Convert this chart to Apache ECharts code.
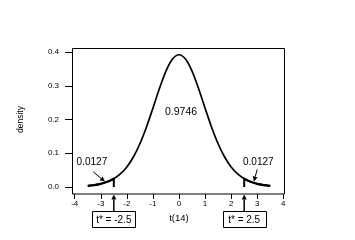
<!DOCTYPE html>
<html>
<head>
<meta charset="utf-8">
<script src="https://cdn.jsdelivr.net/npm/echarts@6/dist/echarts.min.js"></script>
<style>
html,body{margin:0;padding:0;background:#fff;}
#c{width:355px;height:240px;}
</style>
</head>
<body>
<div id="c"></div>
<script>
// Data
const tValues = [-3.5,-3.25,-3,-2.75,-2.5,-2.25,-2,-1.75,-1.5,-1.25,-1,-0.75,-0.5,-0.25,0,0.25,0.5,0.75,1,1.25,1.5,1.75,2,2.25,2.5,2.75,3,3.25,3.5];
const density = [0.0035,0.0058,0.0095,0.0154,0.0246,0.0387,0.0595,0.0889,0.1282,0.1772,0.2336,0.2917,0.3432,0.3790,0.3919,0.3790,0.3432,0.2917,0.2336,0.1772,0.1282,0.0889,0.0595,0.0387,0.0246,0.0154,0.0095,0.0058,0.0035];
const xTicks = [-4,-3,-2,-1,0,1,2,3,4];
const yTicks = ['0.0','0.1','0.2','0.3','0.4'];
const tStar = [-2.5, 2.5];
const tailArea = '0.0127';
const centerArea = '0.9746';
const boxLabels = ['t* = -2.5', 't* = 2.5'];

const FONT = 'Arial, "Liberation Sans", sans-serif';
const curve = tValues.map((t,i)=>[t,density[i]]);
const leftTail = curve.filter(p=>p[0] <= tStar[0]);
const rightTail = curve.filter(p=>p[0] >= tStar[1]);

const chart = echarts.init(document.getElementById('c'), null, {renderer:'canvas'});
chart.setOption({
  animation:false,
  backgroundColor:'#fff',
  grid:{left:74.7, top:52, width:208.6, height:135, containLabel:false},
  xAxis:{
    type:'value', min:-4, max:4, interval:1, offset:7, position:'bottom',
    axisLine:{show:false, onZero:false},
    axisTick:{show:true, length:5, lineStyle:{color:'#000', width:1}},
    splitLine:{show:false},
    axisLabel:{color:'#000', fontSize:8, fontFamily:FONT, margin:6,
      formatter:v=>String(v)},
    name:'t(14)', nameLocation:'middle', nameGap:15,
    nameTextStyle:{color:'#000', fontSize:9.5, fontFamily:FONT}
  },
  yAxis:{
    type:'value', min:0, max:0.4, interval:0.1, offset:2.7, position:'left',
    axisLine:{show:false, onZero:false},
    axisTick:{show:true, length:7, lineStyle:{color:'#000', width:1}},
    splitLine:{show:false},
    axisLabel:{color:'#000', fontSize:8, fontFamily:FONT, margin:13,
      formatter:v=>yTicks[Math.round(v*10)]},
    name:'density', nameLocation:'middle', nameGap:47, nameRotate:90,
    nameTextStyle:{color:'#000', fontSize:8.5, fontFamily:FONT}
  },
  series:[
    {type:'line', data:curve, smooth:0.3, showSymbol:false, clip:false,
     lineStyle:{color:'#000', width:1.7}},
    {type:'line', data:leftTail, smooth:0.3, showSymbol:false, clip:false,
     lineStyle:{color:'#000', width:2.3}},
    {type:'line', data:rightTail, smooth:0.3, showSymbol:false, clip:false,
     lineStyle:{color:'#000', width:2.3}}
  ]
});

function px(p){ return chart.convertToPixel({gridIndex:0}, p); }
function arrow(p0, p1, w){
  const a = px(p0), b = px(p1);
  const dx=b[0]-a[0], dy=b[1]-a[1], L=Math.hypot(dx,dy);
  const ux=dx/L, uy=dy/L, hl=5, hw=2.5;
  const base=[b[0]-ux*hl, b[1]-uy*hl];
  return [
    {type:'line', shape:{x1:a[0],y1:a[1],x2:base[0],y2:base[1]}, style:{stroke:'#000', lineWidth:w}},
    {type:'polygon', shape:{points:[[b[0],b[1]],[base[0]-uy*hw, base[1]+ux*hw],[base[0]+uy*hw, base[1]-ux*hw]]}, style:{fill:'#000'}}
  ];
}
function text(p, s, size){
  const q = px(p);
  return {type:'text', x:q[0], y:q[1], style:{text:s, fill:'#000', font:size+'px '+FONT, textAlign:'center', textVerticalAlign:'middle'}};
}

const g = [];
// frame
g.push({type:'rect', shape:{x:72.5, y:48.5, width:212, height:145.5}, style:{fill:null, stroke:'#000', lineWidth:1}});
// vertical segments at t*
tStar.forEach((t,i)=>{
  const a = px([t,0]), b = px([t, density[tValues.indexOf(t)]]);
  g.push({type:'line', shape:{x1:a[0],y1:a[1],x2:b[0],y2:b[1]-1}, style:{stroke:'#000', lineWidth:2}});
});
// area labels
g.push(text([0.08,0.222], centerArea, 10.5));
g.push(text([-3.34,0.074], tailArea, 10));
g.push(text([3.04,0.073], tailArea, 10));
g.push(...arrow([-3.29,0.045],[-2.84,0.016],1));
g.push(...arrow([3.0,0.052],[2.87,0.016],1));
// boxes with arrows to axis
tStar.forEach((t,i)=>{
  const c = px([t,0]);
  const boxTop = 211, boxH = 16, boxW = 43;
  g.push({type:'rect', shape:{x:Math.round(c[0]-boxW/2)+0.5, y:boxTop+0.5, width:boxW, height:boxH}, style:{fill:'#fff', stroke:'#000', lineWidth:1}});
  g.push({type:'text', x:c[0], y:boxTop+boxH/2+1, style:{text:boxLabels[i], fill:'#000', font:'10px '+FONT, textAlign:'center', textVerticalAlign:'middle'}});
  g.push(...arrow([t,-0.071],[t,-0.022],1.5));
});
chart.setOption({graphic:g});
</script>
</body>
</html>
